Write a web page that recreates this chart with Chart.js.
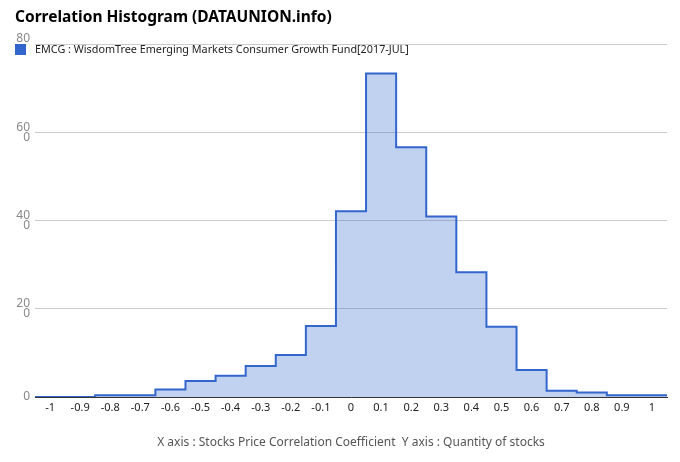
<!DOCTYPE html>
<html>
<head>
<meta charset="utf-8">
<script src="https://cdn.jsdelivr.net/npm/chart.js@4/dist/chart.umd.min.js"></script>
<style>
body { margin: 0; background: #fff; }
#wrap { width: 680px; height: 462px; position: relative; }
</style>
</head>
<body>
<div id="wrap"><canvas id="histChart"></canvas></div>
<script>
var chartTitle = 'Correlation Histogram (DATAUNION.info)';
var seriesLabel = 'EMCG : WisdomTree Emerging Markets Consumer Growth Fund[2017-JUL]';
var axisText = 'X axis : Stocks Price Correlation Coefficient  Y axis : Quantity of stocks';

var categories = [-1, -0.9, -0.8, -0.7, -0.6, -0.5, -0.4, -0.3, -0.2, -0.1, 0, 0.1, 0.2, 0.3, 0.4, 0.5, 0.6, 0.7, 0.8, 0.9, 1];
var xTickLabels = ['-1', '-0.9', '-0.8', '-0.7', '-0.6', '-0.5', '-0.4', '-0.3', '-0.2', '-0.1', '0', '0.1', '0.2', '0.3', '0.4', '0.5', '0.6', '0.7', '0.8', '0.9', '1'];
var counts = [0, 0, 0.4, 0.4, 1.7, 3.6, 4.8, 7, 9.5, 16.1, 42.1, 73.3, 56.6, 40.9, 28.3, 15.9, 6.1, 1.4, 1.0, 0.4, 0.4];
var yTicks = [0, 20, 40, 60, 80];
var binHalf = 0.05;

function buildPoints() {
	var pts = [];
	categories.forEach(function(c, i) {
		pts.push({ x: c - binHalf, y: counts[i] });
	});
	pts.push({ x: categories[categories.length - 1] + binHalf, y: counts[counts.length - 1] });
	return pts;
}

// title + legend drawn at fixed spots like the original
var headerPlugin = {
	id: 'header',
	afterDraw: function(chart) {
		var ctx = chart.ctx;
		ctx.save();
		ctx.fillStyle = '#000';
		ctx.font = 'bold 15.5px "Noto Sans", sans-serif';
		ctx.textBaseline = 'middle';
		ctx.textAlign = 'left';
		ctx.fillText(chartTitle, 15, 18);

		ctx.fillStyle = '#3366cc';
		ctx.fillRect(15, 44, 11, 11);
		ctx.fillStyle = '#222';
		ctx.font = '10.8px "Noto Sans", sans-serif';
		ctx.fillText(chart.data.datasets[0].label, 35, 50);
		ctx.restore();
	}
};

var chart = new Chart(document.getElementById('histChart'), {
	type: 'line',
	data: {
		datasets: [{
			label: seriesLabel,
			data: buildPoints(),
			stepped: true,
			borderColor: '#3366cc',
			borderWidth: 2,
			backgroundColor: 'rgba(51,102,204,0.3)',
			fill: 'origin',
			pointRadius: 0
		}]
	},
	options: {
		responsive: true,
		maintainAspectRatio: false,
		animation: false,
		layout: { padding: { left: 0, top: 44, right: 13, bottom: 8 } },
		plugins: {
			legend: { display: false },
			tooltip: { enabled: false }
		},
		scales: {
			x: {
				type: 'linear',
				min: categories[0] - binHalf,
				max: categories[categories.length - 1] + binHalf,
				afterBuildTicks: function(axis) {
					axis.ticks = categories.map(function(v) { return { value: v }; });
				},
				afterFit: function(axis) { axis.height = 57; },
				grid: { display: false, drawTicks: false },
				border: { color: '#333', width: 1 },
				ticks: {
					autoSkip: false,
					maxRotation: 0,
					padding: 4,
					color: '#222',
					font: { family: '"Noto Sans", sans-serif', size: 11 },
					callback: function(val, idx) { return xTickLabels[idx]; }
				},
				title: {
					display: true,
					text: axisText,
					color: '#555',
					padding: { top: 14 },
					font: { family: '"Noto Sans", sans-serif', size: 12 }
				}
			},
			y: {
				min: 0,
				max: 80,
				afterBuildTicks: function(axis) {
					axis.ticks = yTicks.map(function(v) { return { value: v }; });
				},
				afterFit: function(axis) { axis.width = 35; },
				grid: { color: '#cccccc', drawTicks: false },
				border: { display: false },
				ticks: {
					padding: 5,
					color: '#888',
					font: { family: '"Noto Sans", sans-serif', size: 12, lineHeight: 0.85 },
					callback: function(val) {
						if (val === 0) return '0';
						if (val === 80) return ['80', ''];
						return [String(val), '0'];
					}
				}
			}
		}
	},
	plugins: [headerPlugin]
});
</script>
</body>
</html>
